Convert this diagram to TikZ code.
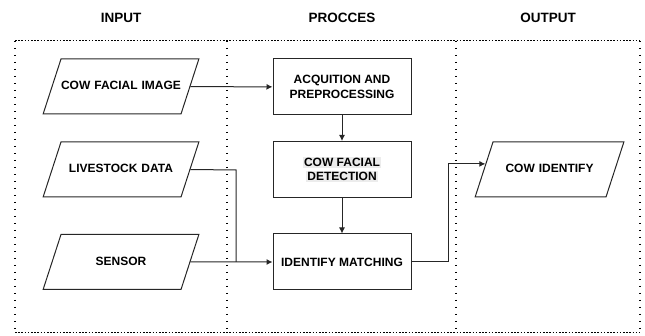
\documentclass[tikz,border=0pt]{standalone}
\usepackage{fontspec}
\setmainfont{Liberation Sans}
\usetikzlibrary{shapes.geometric,arrows.meta}
\definecolor{hlgrey}{HTML}{ECECEC}
\definecolor{linec}{HTML}{262626}
\tikzset{
  base/.style={draw=linec, line width=1pt, font=\fontsize{12}{15.5}\selectfont\bfseries, align=center, inner sep=0pt},
  databox/.style={base, trapezium, trapezium left angle=72, trapezium right angle=108,
     text height=8.6pt, text depth=2.4pt, inner ysep=22pt, inner xsep=0pt},
  procbox/.style={base, rectangle, minimum width=138pt, minimum height=56pt},
  title/.style={font=\fontsize{13.5}{16}\selectfont\bfseries},
  conn/.style={draw=linec, line width=1pt},
  arr/.style={conn, -{Latex[length=6pt,width=6pt]}},
  hline/.style={line width=1pt, dash pattern=on 1.6pt off 1.6pt},
  vline/.style={line width=1.2pt, dash pattern=on 1.2pt off 5.8pt}
}
\newcommand{\hlt}[1]{{\setlength{\fboxsep}{1pt}\colorbox{hlgrey}{#1}}}
\begin{document}
\begin{tikzpicture}[x=1pt,y=-1pt]
\useasboundingbox (0,0) rectangle (645,336);
% titles
\node[title] (tin) at (121,18) {INPUT};
\node[title] (tpr) at (342,18) {PROCCES};
\node[title] (tout) at (548,18) {OUTPUT};
% frame
\coordinate (tl) at (15,41);
\coordinate (tr) at (640,41);
\coordinate (bl) at (15,333);
\coordinate (br) at (640,333);
\coordinate (d1t) at (227,41);
\coordinate (d1b) at (227,333);
\coordinate (d2t) at (456,41);
\coordinate (d2b) at (456,333);
\draw[hline] (tl) -- (tr);
\draw[hline] (bl) -- (br);
\draw[vline] (tl) -- (bl);
\draw[vline] (tr) -- (br);
\draw[vline] (d1t) -- (d1b);
\draw[vline] (d2t) -- (d2b);
% input
\node[databox, text width=120pt] (img) at (121,86.5) {COW FACIAL IMAGE};
\node[databox, text width=120pt] (live) at (121,169.5) {LIVESTOCK DATA};
\node[databox, text width=120pt] (sens) at (121,262) {SENSOR};
% process
\node[procbox] (acq) at (342,87) {ACQUITION AND\\PREPROCESSING};
\node[procbox] (det) at (342,169.5) {\hlt{COW FACIAL}\\[-1.5pt]\hlt{DETECTION}};
\node[procbox] (match) at (342,262) {IDENTIFY MATCHING};
% output
\node[databox, text width=113pt] (out) at (549.5,169.5) {COW IDENTIFY};
% connectors
\draw[arr] (img) -- (acq);
\draw[arr] (acq) -- (det);
\draw[arr] (det) -- (match);
\coordinate (j1) at (236,170);
\coordinate (j2) at (236,262);
\draw[conn] (live.east) -- (j1) -- (j2);
\draw[arr] (sens) -- (match);
\coordinate (k1) at (448,262);
\draw[arr] (match.east) -- (k1) |- (out.175);
\end{tikzpicture}
\end{document}
